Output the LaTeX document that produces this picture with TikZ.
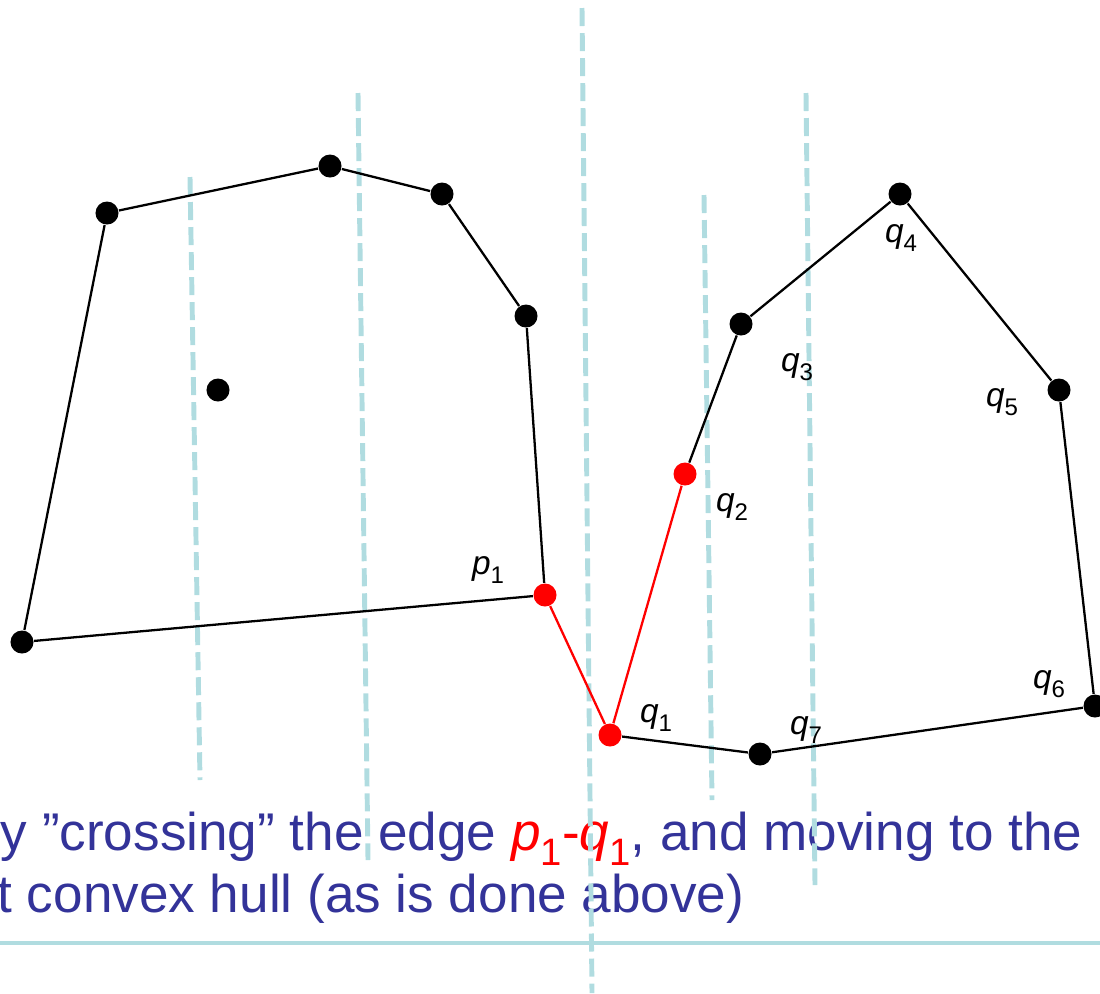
\documentclass[tikz,border=0pt]{standalone}
\usepackage{fontspec}
\usepackage{graphicx}
\setmainfont{Liberation Sans}
\usetikzlibrary{positioning}
\definecolor{captionblue}{HTML}{333399}
\definecolor{sweepcyan}{HTML}{B0DCE0}
\newcommand\vlab[2]{\textit{#1}\raisebox{-0.55ex}{\scalebox{0.72}{#2}}}

\begin{document}
\begin{tikzpicture}[
  x=0.01cm, y=-0.01cm,
  every node/.style={font=\fontsize{9.5}{11}\selectfont},
  dot/.style={circle, fill=black, inner sep=0pt, minimum size=0.23cm},
  reddot/.style={dot, fill=red},
  hull/.style={line width=0.65pt, black},
  bridge/.style={line width=0.65pt, red},
  sweep/.style={sweepcyan, line width=1.4pt, dash pattern=on 0.18cm off 0.07cm},
  caption/.style={text=captionblue, font=\fontsize{15.1}{18}\selectfont, inner sep=0pt}
]
\useasboundingbox (0,0) rectangle (1100,993);
\clip (0,0) rectangle (1100,993);

\node[caption, anchor=base east] (line1) at (1083,850) {by ”crossing” the edge \textcolor{red}{\vlab{p}{1}-\vlab{q}{1}}, and moving to the};
\node[caption, anchor=base east] (line2) at (745,912) {t convex hull (as is done above)};
\draw[sweepcyan, line width=1pt] (0,943) -- (1100,943);

\foreach \xa/\ya/\xb/\yb in {190/177/200/780, 358/93/368/860, 582/8/592/993, 704/195/712/800, 806/93/815/885}
  \draw[sweep] (\xa,\ya) -- (\xb,\yb);

\node[dot] (a) at (107,213) {};
\node[dot] (b) at (330,166) {};
\node[dot] (c) at (442,194) {};
\node[dot] (d) at (526,316) {};
\node[reddot] (p1) at (545,595) {};
\node[dot] (e) at (22,642) {};
\node[dot] (inner) at (218,390) {};

\node[reddot] (q1) at (610,735) {};
\node[reddot] (q2) at (685,474) {};
\node[dot] (q3) at (741,324) {};
\node[dot] (q4) at (900,194) {};
\node[dot] (q5) at (1059,390) {};
\node[dot] (q6) at (1095,706) {};
\node[dot] (q7) at (760,754) {};

\draw[hull] (a) -- (b) -- (c) -- (d) -- (p1) -- (e) -- (a);
\draw[hull] (q2) -- (q3) -- (q4) -- (q5) -- (q6) -- (q7) -- (q1);
\draw[bridge] (p1) -- (q1) -- (q2);

\node at (488,570) {\vlab{p}{1}};
\node at (656,718) {\vlab{q}{1}};
\node at (732,507) {\vlab{q}{2}};
\node at (797,367) {\vlab{q}{3}};
\node at (901,238) {\vlab{q}{4}};
\node at (1002,402) {\vlab{q}{5}};
\node at (1049,684) {\vlab{q}{6}};
\node at (806,730) {\vlab{q}{7}};
\end{tikzpicture}
\end{document}
